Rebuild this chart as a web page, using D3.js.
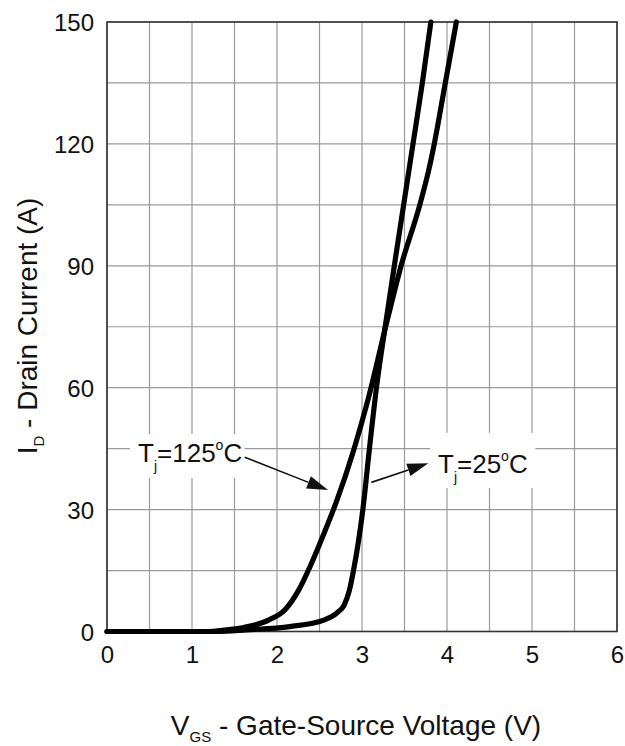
<!DOCTYPE html>
<html>
<head>
<meta charset="utf-8">
<script src="https://cdn.jsdelivr.net/npm/d3@7"></script>
<style>
  html, body { margin: 0; padding: 0; background: #fff; }
  text { font-family: "Liberation Sans", Arial, sans-serif; fill: #111; }
</style>
</head>
<body>
<div id="chart"></div>
<script>
// Tj = 125 C curve
var vgsHot = [0, 0.5, 1.0, 1.18, 1.4, 1.61, 1.9, 2.1, 2.25, 2.4, 2.55, 2.7, 2.9, 3.07, 3.29, 3.46, 3.68, 3.79, 3.85, 3.98, 4.11];
var idHot  = [0, 0, 0, 0, 0.4, 1.0, 2.8, 5.5, 10, 16.5, 24, 32, 44.5, 57, 76, 90, 105, 114, 120, 135, 150];
// Tj = 25 C curve
var vgsCold = [0, 0.5, 1.0, 1.3, 1.64, 2.15, 2.55, 2.7, 2.79, 2.85, 2.9, 3.01, 3.09, 3.17, 3.28, 3.38, 3.49, 3.6, 3.71, 3.81];
var idCold  = [0, 0, 0, 0, 0.4, 1.2, 2.8, 4.5, 6.5, 10, 15, 30, 45.5, 60, 76, 90, 105, 120, 135, 150];

var xTicks = [0, 1, 2, 3, 4, 5, 6];
var yTicks = [0, 30, 60, 90, 120, 150];
var xGrid = d3.range(0, 6.01, 0.5);
var yGrid = d3.range(0, 150.1, 15);

var width = 625, height = 746;
var margin = {top: 22, right: 8, bottom: 114.5, left: 107};
var plotW = width - margin.left - margin.right;   // 510
var plotH = height - margin.top - margin.bottom;  // 609.5

var svg = d3.select("#chart").append("svg")
    .attr("width", width)
    .attr("height", height);

var x = d3.scaleLinear().domain([0, 6]).range([margin.left, margin.left + plotW]);
var y = d3.scaleLinear().domain([0, 150]).range([margin.top + plotH, margin.top]);

// grid
var grid = svg.append("g").attr("stroke", "#9a9a9a").attr("stroke-width", 1.2);
grid.selectAll("line.v").data(xGrid).join("line")
    .attr("class", "v")
    .attr("x1", d => x(d)).attr("x2", d => x(d))
    .attr("y1", y(0)).attr("y2", y(150));
grid.selectAll("line.h").data(yGrid).join("line")
    .attr("class", "h")
    .attr("x1", x(0)).attr("x2", x(6))
    .attr("y1", d => y(d)).attr("y2", d => y(d));

// frame
svg.append("rect")
    .attr("x", x(0)).attr("y", y(150))
    .attr("width", x(6) - x(0)).attr("height", y(0) - y(150))
    .attr("fill", "none").attr("stroke", "#333").attr("stroke-width", 1.6);

// axes (labels only)
var xAxis = svg.append("g")
    .attr("transform", `translate(0,${y(0)})`)
    .call(d3.axisBottom(x).tickValues(xTicks).tickSize(0).tickPadding(14).tickFormat(d3.format("d")));
var yAxis = svg.append("g")
    .attr("transform", `translate(${x(0)},0)`)
    .call(d3.axisLeft(y).tickValues(yTicks).tickSize(0).tickPadding(13).tickFormat(d3.format("d")));
[xAxis, yAxis].forEach(function (g) {
    g.select(".domain").remove();
    g.selectAll("text")
        .style("font-family", "'Liberation Sans', Arial, sans-serif")
        .style("font-size", "24px")
        .attr("fill", "#111");
});
xAxis.selectAll("text").attr("dy", "0.71em");
yAxis.selectAll("text").attr("dy", "0.36em");

// curves
var line = d3.line()
    .x(d => x(d[0]))
    .y(d => y(d[1]))
    .curve(d3.curveMonotoneX);

var curves = [d3.zip(vgsHot, idHot), d3.zip(vgsCold, idCold)];
svg.append("g")
    .attr("fill", "none")
    .attr("stroke", "#000")
    .attr("stroke-width", 5.2)
    .attr("stroke-linejoin", "round")
    .attr("stroke-linecap", "round")
    .selectAll("path")
    .data(curves)
    .join("path")
    .attr("d", line);

// annotations
function arrow(x1, y1, x2, y2) {
    var ax = x(x1), ay = y(y1), bx = x(x2), by = y(y2);
    var ang = Math.atan2(by - ay, bx - ax);
    var len = 21, half = 6.5;
    var cx = bx - len * Math.cos(ang), cy = by - len * Math.sin(ang);
    svg.append("line")
        .attr("x1", ax).attr("y1", ay).attr("x2", cx).attr("y2", cy)
        .attr("stroke", "#111").attr("stroke-width", 1.6);
    svg.append("path")
        .attr("d", "M" + bx + "," + by +
            "L" + (cx + half * Math.sin(ang)) + "," + (cy - half * Math.cos(ang)) +
            "L" + (cx - half * Math.sin(ang)) + "," + (cy + half * Math.cos(ang)) + "Z")
        .attr("fill", "#111");
}

function tempLabel(bx0, by0, bx1, by1, tx, ty, temp) {
    svg.append("rect")
        .attr("x", x(bx0)).attr("y", y(by0))
        .attr("width", x(bx1) - x(bx0)).attr("height", y(by1) - y(by0))
        .attr("fill", "#fff");
    var t = svg.append("text")
        .attr("x", x(tx)).attr("y", y(ty))
        .style("font-size", "26px");
    t.append("tspan").text("T");
    t.append("tspan").attr("dy", 9).style("font-size", "14px").text("j");
    t.append("tspan").attr("dy", -9).text("=" + temp);
    t.append("tspan").attr("dy", -12).style("font-size", "14px").text("o");
    t.append("tspan").attr("dy", 12).text("C");
}

tempLabel(0.27, 48.6, 1.62, 37.8, 0.365, 41.7, "125");
tempLabel(3.80, 48.9, 5.04, 35.3, 3.894, 39.1, "25");
arrow(1.62, 42.9, 2.60, 34.8);
arrow(3.11, 36.7, 3.78, 41.4);

// axis titles
var xt = svg.append("text")
    .attr("x", (x(0) + x(6)) / 2 - 6)
    .attr("y", 735)
    .attr("text-anchor", "middle")
    .style("font-size", "28px");
xt.append("tspan").text("V");
xt.append("tspan").attr("dy", 7).style("font-size", "15px").text("GS");
xt.append("tspan").attr("dy", -7).text(" - Gate-Source Voltage (V)");

var yt = svg.append("text")
    .attr("transform", "translate(37," + 326 + ") rotate(-90)")
    .attr("text-anchor", "middle")
    .style("font-size", "28px");
yt.append("tspan").text("I");
yt.append("tspan").attr("dy", 7).style("font-size", "15px").text("D");
yt.append("tspan").attr("dy", -7).text(" - Drain Current (A)");
</script>
</body>
</html>
